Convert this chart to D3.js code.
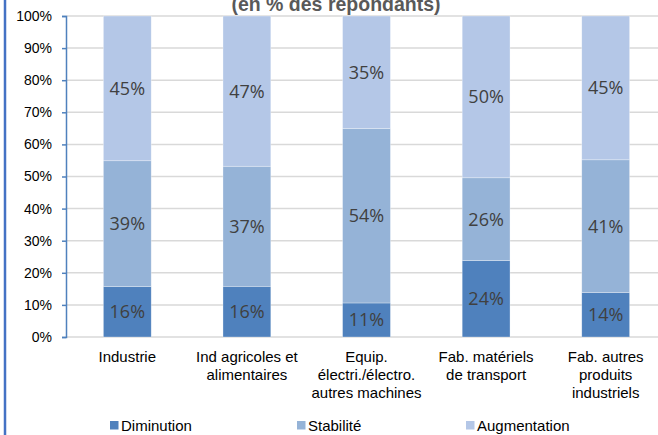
<!DOCTYPE html>
<html>
<head>
<meta charset="utf-8">
<script src="https://cdn.jsdelivr.net/npm/d3@7"></script>
<style>
  body { margin: 0; background: #fff; }
  svg { display: block; }
</style>
</head>
<body>
<script>
// categories (multi-line labels)
var categories = ["Industrie", "Ind agricoles et alimentaires", "Equip. électri./électro. autres machines", "Fab. matériels de transport", "Fab. autres produits industriels"];
var categoryLines = [
    ["Industrie"],
    ["Ind agricoles et", "alimentaires"],
    ["Equip.", "électri./électro.", "autres machines"],
    ["Fab. matériels", "de transport"],
    ["Fab. autres", "produits", "industriels"]
];
var seriesNames = ["Diminution", "Stabilité", "Augmentation"];
var diminution = [15.7, 15.8, 10.6, 23.8, 13.8];
var stabilite = [39.2, 37.4, 54.4, 25.8, 41.4];
var augmentation = [45.1, 46.8, 35.0, 50.4, 44.8];
var yTicks = [0, 10, 20, 30, 40, 50, 60, 70, 80, 90, 100];
var colors = ["#4f81bd", "#95b3d7", "#b4c7e7"];

var width = 658, height = 435;
var svg = d3.select("body").append("svg")
    .attr("width", width)
    .attr("height", height);

// frame line on the left
svg.append("line")
    .attr("x1", 5).attr("x2", 5)
    .attr("y1", 0).attr("y2", height)
    .attr("stroke", "#4472c4")
    .attr("stroke-width", 2.5);

// title (top cut off like the reference)
svg.append("text")
    .attr("x", 336).attr("y", 11)
    .attr("text-anchor", "middle")
    .attr("font-family", "Liberation Sans, Arial, sans-serif")
    .attr("font-weight", "bold")
    .attr("font-size", 19.5)
    .attr("fill", "#595959")
    .text("(en % des répondants)");

var x = d3.scaleBand()
    .domain(categories)
    .range([67.5, 665.5])
    .paddingInner(0.6)
    .paddingOuter(0.3);

var y = d3.scaleLinear()
    .domain([0, 100])
    .range([337, 16]);

// gridlines
svg.append("g")
    .selectAll("line")
    .data(yTicks)
    .join("line")
    .attr("x1", 66).attr("x2", width)
    .attr("y1", d => y(d)).attr("y2", d => y(d))
    .attr("stroke", "#d9d9d9")
    .attr("stroke-width", 1.5);

// y axis
var yAxis = d3.axisLeft(y)
    .tickValues(yTicks)
    .tickFormat(d => d + "%")
    .tickSize(4)
    .tickPadding(10);

var gy = svg.append("g")
    .attr("transform", "translate(66,0)")
    .call(yAxis);
gy.select(".domain").attr("stroke", "#4f81bd").attr("stroke-width", 1.5);
gy.selectAll(".tick line").attr("stroke", "#4f81bd").attr("stroke-width", 1.5);
gy.selectAll(".tick text")
    .attr("font-family", "Liberation Sans, Arial, sans-serif")
    .attr("font-size", 14)
    .attr("fill", "#000");

// stack the data
var table = categories.map(function(c, i) {
    return { cat: c, Diminution: diminution[i], "Stabilité": stabilite[i], Augmentation: augmentation[i] };
});
var stacked = d3.stack().keys(seriesNames)(table);

var layers = svg.append("g")
    .selectAll("g")
    .data(stacked)
    .join("g")
    .attr("fill", (d, i) => colors[i]);

layers.selectAll("rect")
    .data(d => d)
    .join("rect")
    .attr("x", d => x(d.data.cat))
    .attr("width", x.bandwidth())
    .attr("y", d => y(d[1]))
    .attr("height", d => y(d[0]) - y(d[1]))
    .attr("stroke", "#fff")
    .attr("stroke-opacity", 0.5)
    .attr("stroke-width", 0.6);

// value labels
layers.selectAll("text")
    .data(d => d)
    .join("text")
    .attr("x", d => x(d.data.cat) + x.bandwidth() / 2)
    .attr("y", d => y((d[0] + d[1]) / 2))
    .attr("dy", "0.36em")
    .attr("text-anchor", "middle")
    .attr("font-family", "Open Sans, sans-serif")
    .attr("font-size", 18)
    .attr("fill", "#404040")
    .text(d => Math.round(d[1] - d[0]) + "%");

// category labels
var cats = svg.append("g")
    .selectAll("text")
    .data(categories)
    .join("text")
    .attr("x", d => x(d) + x.bandwidth() / 2)
    .attr("y", 362)
    .attr("text-anchor", "middle")
    .attr("font-family", "Liberation Sans, Arial, sans-serif")
    .attr("font-size", 15)
    .attr("fill", "#000");

cats.selectAll("tspan")
    .data((d, i) => categoryLines[i])
    .join("tspan")
    .attr("x", function() { return this.parentNode.getAttribute("x"); })
    .attr("dy", (d, i) => i === 0 ? 0 : 18)
    .text(d => d);

// legend
var legendX = [110, 297, 466];
var legend = svg.append("g")
    .selectAll("g")
    .data(seriesNames)
    .join("g")
    .attr("transform", (d, i) => "translate(" + legendX[i] + ",421)");

legend.append("rect")
    .attr("width", 8.5).attr("height", 8.5)
    .attr("fill", (d, i) => colors[i]);

legend.append("text")
    .attr("x", 11)
    .attr("y", 9.5)
    .attr("font-family", "Liberation Sans, Arial, sans-serif")
    .attr("font-size", 15)
    .attr("fill", "#000")
    .text(d => d);
</script>
</body>
</html>
